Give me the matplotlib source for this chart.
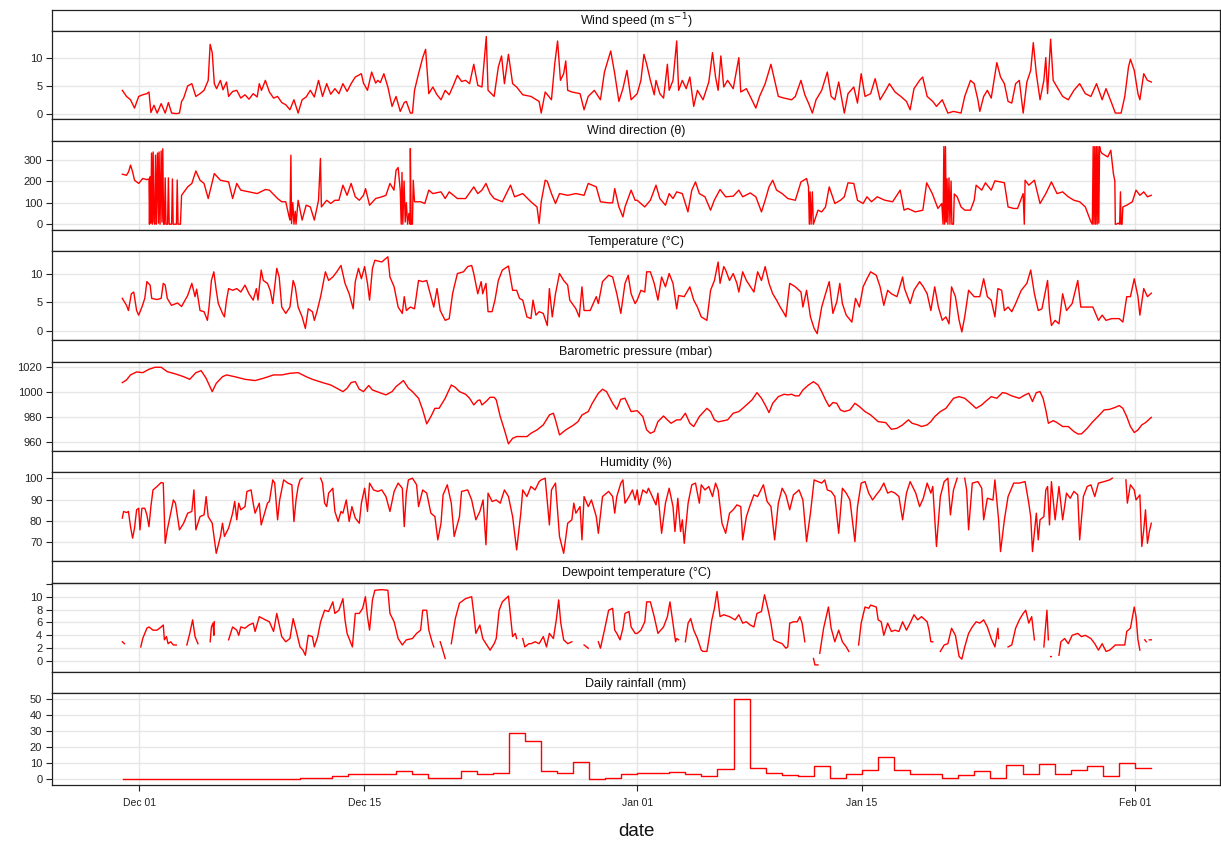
import numpy as np
import matplotlib
matplotlib.use("Agg")
import matplotlib.pyplot as plt

plt.rcParams['font.family'] = ['Liberation Sans', 'DejaVu Sans']
nan = float('nan')

# time = days since 1 December 00:00
START = np.datetime64('2012-12-01T00:00')

wind_speed = [(-1.07,4.2),(-0.81,3.1),(-0.56,2.5),(-0.31,1.0),(-0.05,3.1),(0.20,3.4),(0.46,3.6),(0.59,3.9),(0.71,0.2),(0.90,1.5),(1.10,0.1),(1.35,1.8),(1.60,0.1),(1.80,2.0),(2.00,0.1),(2.30,0.0),(2.49,0.1),(2.62,2.2),(2.75,2.8),(3.00,5.0),(3.26,5.4),(3.51,3.1),(3.77,3.6),(4.02,4.2),(4.28,6.0),(4.40,12.5),(4.53,11.0),(4.66,5.4),(4.80,4.5),(5.04,6.0),(5.20,4.3),(5.42,5.7),(5.55,3.1),(5.80,4.0),(6.06,4.2),(6.31,2.8),(6.57,3.4),(6.82,2.6),(7.08,3.6),(7.33,3.0),(7.46,5.4),(7.60,4.2),(7.84,6.0),(8.09,3.9),(8.35,2.8),(8.60,3.1),(8.86,2.0),(9.11,1.6),(9.37,0.7),(9.62,2.5),(9.88,0.1),(10.13,2.5),(10.38,3.0),(10.64,4.2),(10.89,3.0),(11.15,6.0),(11.40,3.1),(11.66,5.4),(11.91,3.5),(12.17,4.5),(12.42,3.6),(12.67,5.4),(12.93,4.0),(13.18,5.4),(13.44,6.6),(13.82,7.2),(13.95,5.5),(14.20,4.2),(14.46,7.5),(14.71,5.5),(14.84,6.0),(15.00,5.6),(15.22,7.2),(15.47,4.8),(15.73,1.3),(15.98,3.1),(16.24,0.4),(16.49,2.0),(16.62,2.2),(16.87,0.1),(17.00,0.1),(17.13,4.2),(17.38,7.2),(17.64,10.1),(17.82,11.6),(18.02,3.6),(18.27,4.8),(18.53,3.4),(18.78,2.5),(19.04,4.2),(19.29,3.4),(19.55,5.1),(19.80,6.9),(20.06,5.8),(20.31,6.0),(20.56,5.4),(20.82,8.9),(21.07,5.1),(21.33,4.8),(21.60,13.9),(21.71,4.2),(22.09,3.1),(22.35,8.4),(22.55,10.4),(22.73,5.4),(22.98,10.7),(23.24,5.4),(23.49,4.8),(23.87,3.4),(24.38,3.1),(24.89,2.2),(25.02,0.1),(25.27,3.9),(25.66,2.5),(25.86,8.9),(26.04,13.1),(26.22,6.0),(26.42,7.2),(26.55,9.5),(26.67,4.2),(26.93,3.9),(27.44,3.6),(27.69,0.7),(27.95,3.1),(28.33,4.2),(28.71,2.5),(28.96,7.5),(29.35,11.3),(29.60,7.2),(29.86,2.2),(30.11,4.5),(30.36,7.8),(30.62,2.5),
 (31.00,3.6),(31.23,6.0),(31.42,10.7),(31.59,8.9),(31.82,6.0),(32.06,3.4),(32.17,6.0),(32.41,3.6),(32.64,2.8),(32.88,8.9),(32.99,4.2),(33.23,6.0),(33.46,13.1),(33.58,4.2),(33.81,6.0),(34.05,4.5),(34.28,6.6),(34.52,1.3),(34.75,4.2),(35.10,2.5),(35.46,5.7),(35.69,11.0),(35.88,6.6),(36.04,4.2),(36.21,10.4),(36.39,4.8),(36.63,6.0),(36.98,4.5),(37.33,10.1),(37.45,3.9),(37.80,4.5),(38.04,3.1),(38.39,1.0),(38.62,3.1),(38.97,5.4),(39.33,8.9),(39.56,6.0),(39.79,3.1),(40.15,2.8),(40.62,2.5),(40.85,3.1),(41.20,6.0),(41.44,3.4),(41.67,1.9),(41.91,0.1),(42.14,2.5),(42.49,4.2),(42.84,7.5),(43.08,3.1),(43.31,2.5),(43.55,5.7),(43.90,0.1),(44.13,3.6),(44.49,4.8),(44.72,1.9),(44.95,7.2),(45.19,3.1),(45.54,3.6),(45.82,6.3),(46.13,2.5),(46.48,4.2),(46.71,5.4),(47.06,3.9),(47.42,3.1),(47.77,2.2),(48.00,0.7),(48.24,4.5),(48.59,6.0),(48.78,6.6),(49.06,3.1),(49.41,2.2),(49.64,1.3),(50.00,2.5),(50.35,0.1),(50.70,0.4),(51.17,0.1),(51.40,3.1),(51.76,6.0),(51.99,5.4),(52.22,2.5),(52.34,0.4),(52.58,3.1),(52.81,4.2),(53.05,2.8),(53.40,9.2),(53.63,6.6),(53.87,5.4),(54.10,2.2),(54.33,1.9),(54.57,5.4),(54.80,6.0),(55.04,0.1),(55.27,5.7),(55.51,7.8),(55.67,12.8),(55.86,7.2),(56.09,2.5),(56.33,6.0),(56.45,10.1),(56.56,3.6),(56.75,13.4),(56.91,6.0),(57.15,4.8),(57.50,3.1),(57.85,2.5),(58.20,4.2),(58.56,5.4),(58.91,3.6),(59.26,3.1),(59.61,5.4),(59.96,2.5),(60.20,4.5),(60.55,1.9),(60.78,0.1),(61.14,0.1),(61.37,3.1),(61.60,8.4),(61.72,9.8),(61.96,7.8),(62.19,3.6),(62.31,2.5),(62.55,7.2),(62.78,6.0),(63.02,5.7)]

wind_dir = [(-1.07,232),(-0.81,227),(-0.68,243),(-0.56,274),(-0.43,243),(-0.31,204),(-0.05,189),(0.20,212),(0.46,207),(0.59,210),(0.62,0),(0.66,220),(0.70,5),(0.75,330),(0.80,0),(0.85,335),(0.90,10),(0.95,0),(1.00,320),(1.05,0),(1.12,330),(1.18,5),(1.22,335),(1.28,0),(1.35,340),(1.40,10),(1.45,350),(1.50,0),(1.55,0),(1.60,215),(1.65,0),(1.75,0),(1.80,215),(1.85,0),(2.00,0),(2.05,210),(2.10,0),(2.30,0),(2.35,205),(2.40,0),(2.55,0),(2.62,134),(3.00,173),(3.26,189),(3.51,247),(3.77,204),(4.02,189),(4.28,119),(4.53,196),(4.66,235),(5.04,204),(5.55,196),(5.80,119),(6.06,189),(6.31,158),(6.82,150),(7.33,142),(7.84,161),(8.09,158),(8.60,119),(8.86,104),(9.11,104),(9.30,40),(9.37,19),(9.43,320),(9.47,3),(9.55,100),(9.62,0),(9.70,60),(9.75,0),(9.88,111),(10.13,19),(10.38,88),(10.64,80),(10.89,19),(11.15,111),(11.27,305),(11.33,80),(11.66,111),(11.91,96),(12.17,111),(12.42,111),(12.67,181),(12.93,134),(13.18,189),(13.44,127),(13.69,111),(13.95,134),(14.08,165),(14.33,88),(14.71,119),(15.09,127),(15.35,134),(15.60,189),(15.85,158),(15.98,250),(16.11,263),(16.24,158),(16.30,0),(16.35,240),(16.40,0),(16.48,200),(16.55,10),(16.62,100),(16.70,0),(16.78,50),(16.85,0),(16.87,351),(16.92,0),(17.00,0),(17.05,204),(17.13,104),(17.51,104),(17.77,96),(18.02,158),(18.27,142),(18.78,150),(19.04,119),(19.29,150),(19.55,134),(19.80,119),(20.31,119),(20.82,173),(21.07,142),(21.33,158),(21.58,189),(21.84,142),(22.09,119),(22.60,104),(23.11,181),(23.36,127),(23.87,142),(24.38,104),(24.76,80),(24.89,3),(25.02,104),(25.27,204),(25.40,199),(25.66,142),(25.91,96),(26.16,142),(26.67,134),(27.18,142),(27.69,134),(27.95,189),(28.45,173),(28.71,104),(29.22,99),(29.47,99),(29.60,165),(29.86,80),(30.11,34),(30.24,80),(30.62,158),(30.87,111),
 (31.00,111),(31.47,80),(31.82,111),(32.17,181),(32.41,119),(32.76,88),(32.99,142),(33.23,119),(33.46,150),(33.81,142),(34.16,57),(34.40,158),(34.63,196),(34.87,142),(35.22,127),(35.57,65),(35.80,111),(36.16,161),(36.51,127),(36.98,130),(37.33,158),(37.57,127),(38.04,145),(38.39,127),(38.74,57),(38.97,111),(39.21,173),(39.44,204),(39.68,158),(40.03,142),(40.38,119),(40.85,111),(41.20,196),(41.55,212),(41.67,173),(41.72,0),(41.77,150),(41.83,0),(41.91,150),(41.97,0),(42.02,10),(42.26,65),(42.49,57),(42.73,80),(42.96,173),(43.31,96),(43.66,111),(43.90,127),(44.13,192),(44.49,189),(44.72,111),(45.07,96),(45.31,127),(45.59,104),(45.95,127),(46.43,111),(46.91,104),(47.38,158),(47.62,65),(47.85,73),(48.32,57),(48.79,65),(49.03,192),(49.38,142),(49.73,73),(49.97,96),(50.05,0),(50.10,360),(50.15,0),(50.20,360),(50.25,10),(50.30,210),(50.35,0),(50.42,215),(50.48,0),(50.55,200),(50.60,0),(50.70,0),(50.75,140),(50.93,127),(51.17,80),(51.40,65),(51.76,65),(51.99,111),(52.11,181),(52.46,158),(52.69,192),(53.05,158),(53.28,201),(53.63,196),(53.87,192),(54.10,80),(54.45,73),(54.69,73),(55.04,142),(55.11,0),(55.16,204),(55.39,181),(55.74,204),(56.09,96),(56.45,142),(56.80,196),(57.15,142),(57.50,150),(57.85,127),(58.20,111),(58.56,104),(58.91,80),(59.26,11),(59.35,0),(59.40,360),(59.45,0),(59.50,360),(59.55,0),(59.60,360),(59.65,0),(59.70,360),(59.75,5),(59.80,360),(59.85,340),(59.96,328),(60.31,312),(60.50,343),(60.66,235),(60.75,200),(60.78,0),(60.85,0),(60.95,5),(61.05,0),(61.10,150),(61.14,0),(61.20,0),(61.25,80),(61.49,88),(61.84,104),(62.07,158),(62.31,134),(62.55,150),(62.78,127),(63.02,134)]

temperature = [(-1.07,5.7),(-0.81,4.5),(-0.69,3.6),(-0.51,6.5),(-0.36,6.8),(-0.18,3.6),(-0.05,2.8),(0.15,4.2),(0.33,5.7),(0.46,8.6),(0.66,8.0),(0.76,5.7),(1.09,5.5),(1.35,5.7),(1.48,8.3),(1.60,8.0),(1.73,5.7),(1.99,4.5),(2.37,4.9),(2.62,4.3),(3.00,6.2),(3.26,8.3),(3.46,6.0),(3.56,7.3),(3.77,3.6),(4.02,3.4),(4.23,1.9),(4.33,4.2),(4.48,8.8),(4.63,10.3),(4.78,7.1),(4.91,4.8),(5.17,3.1),(5.29,2.5),(5.42,5.4),(5.55,7.4),(5.80,7.1),(6.06,7.4),(6.31,6.8),(6.57,8.0),(6.82,6.5),(7.08,5.4),(7.28,7.4),(7.38,5.4),(7.58,10.6),(7.71,8.8),(7.97,8.3),(8.14,7.1),(8.30,4.8),(8.55,10.9),(8.70,9.4),(8.86,4.2),(9.11,3.1),(9.37,4.2),(9.57,8.8),(9.70,7.7),(9.88,4.2),(10.13,2.5),(10.33,0.5),(10.51,3.9),(10.77,3.4),(10.89,1.9),(11.05,3.4),(11.28,6.0),(11.40,7.7),(11.58,10.3),(11.78,8.8),(12.04,9.4),(12.29,10.3),(12.55,11.4),(12.80,8.3),(13.06,6.5),(13.31,3.9),(13.44,8.6),(13.64,10.9),(13.82,9.1),(14.02,11.2),(14.20,8.3),(14.33,5.4),(14.51,10.9),(14.66,12.3),(15.09,12.0),(15.47,12.9),(15.60,9.4),(15.86,7.7),(16.11,4.2),(16.37,3.1),(16.49,6.0),(16.62,3.6),(16.87,4.2),(17.13,3.9),(17.38,8.8),(17.64,8.6),(17.89,8.8),(18.02,7.4),(18.33,4.2),(18.53,7.4),(18.73,3.6),(19.04,1.9),(19.29,2.2),(19.50,6.5),(19.60,7.7),(19.80,10.0),(20.18,10.3),(20.44,11.2),(20.69,11.4),(20.82,10.0),(21.07,6.5),(21.28,8.6),(21.38,6.5),(21.58,8.3),(21.71,3.4),(21.96,3.4),(22.14,5.4),(22.35,8.8),(22.60,10.6),(22.98,11.3),(23.24,7.1),(23.49,7.1),(23.67,5.7),(23.87,5.4),(24.13,2.5),(24.38,2.2),(24.51,5.4),(24.69,2.8),(24.89,3.4),(25.15,3.1),(25.40,1.0),(25.53,7.4),(25.71,2.5),(25.91,6.5),(26.16,10.0),(26.42,8.8),(26.67,8.0),(26.80,5.4),(27.18,3.9),(27.39,2.5),(27.56,7.7),(27.69,3.6),(28.07,3.6),(28.45,6.0),(28.58,4.8),(28.84,8.6),(29.22,9.7),(29.47,9.4),(29.73,6.5),(29.98,3.1),(30.24,8.3),(30.44,9.7),(30.62,6.5),(30.87,4.8),
 (31.00,5.4),(31.23,7.1),(31.47,6.8),(31.59,10.3),(31.82,10.3),(32.06,8.3),(32.29,5.4),(32.52,9.4),(32.76,7.7),(32.99,10.0),(33.23,8.3),(33.46,3.9),(33.58,6.2),(33.93,6.0),(34.28,7.7),(34.52,5.4),(34.75,4.2),(34.99,2.5),(35.34,1.9),(35.57,7.1),(35.81,8.8),(36.04,12.0),(36.16,8.3),(36.39,11.2),(36.51,10.6),(36.75,8.8),(36.98,10.0),(37.21,8.3),(37.33,6.8),(37.57,10.3),(37.80,8.8),(38.27,6.8),(38.50,10.3),(38.74,8.8),(38.97,11.2),(39.21,8.3),(39.44,6.5),(39.68,5.4),(39.91,4.2),(40.15,3.1),(40.26,2.5),(40.50,8.3),(40.85,7.7),(41.20,6.8),(41.32,4.2),(41.55,7.1),(41.79,2.5),(42.02,0.5),(42.21,-0.4),(42.49,4.2),(42.73,6.5),(42.96,8.6),(43.19,3.1),(43.43,5.1),(43.62,8.3),(43.78,4.8),(44.02,2.8),(44.37,1.6),(44.60,5.7),(44.84,4.2),(45.07,7.7),(45.31,9.1),(45.54,10.3),(45.89,9.7),(46.13,7.7),(46.36,4.5),(46.60,7.1),(46.83,6.5),(47.18,6.0),(47.53,9.4),(47.65,7.4),(48.00,4.8),(48.24,7.1),(48.59,8.6),(48.82,7.7),(49.06,6.5),(49.29,3.6),(49.53,7.7),(49.76,4.2),(50.00,1.9),(50.23,2.5),(50.42,1.3),(50.58,7.7),(50.82,6.0),(51.05,1.9),(51.22,-0.1),(51.40,2.5),(51.64,7.1),(51.99,6.0),(52.34,6.0),(52.58,9.1),(52.81,6.0),(53.05,5.4),(53.28,2.5),(53.47,7.4),(53.70,7.1),(53.87,3.6),(54.10,4.2),(54.33,3.4),(54.57,4.8),(54.92,7.1),(55.27,8.3),(55.51,10.6),(55.74,6.5),(55.98,3.6),(56.21,3.9),(56.56,8.8),(56.68,3.6),(56.80,1.0),(57.03,1.9),(57.27,1.3),(57.50,6.5),(57.74,3.6),(58.09,4.8),(58.44,8.8),(58.63,4.2),(58.91,4.2),(59.38,4.2),(59.73,1.9),(59.96,2.8),(60.20,1.9),(60.55,2.2),(61.02,2.2),(61.25,1.6),(61.49,6.0),(61.72,6.0),(61.96,9.1),(62.19,6.0),(62.31,2.8),(62.55,7.4),(62.78,6.0),(63.02,6.6)]

pressure = [(-1.07,1007.3),(-0.81,1009.4),(-0.56,1013.4),(-0.18,1015.8),(0.20,1015.2),(0.59,1017.9),(0.97,1019.5),(1.35,1019.5),(1.73,1016.0),(2.24,1014.2),(2.75,1012.0),(3.13,1009.9),(3.51,1015.2),(3.84,1016.8),(4.15,1010.7),(4.53,1000.1),(4.78,1006.7),(5.17,1012.0),(5.42,1013.4),(5.93,1012.0),(6.57,1009.9),(7.20,1008.9),(7.71,1010.7),(8.35,1013.4),(8.86,1013.4),(9.37,1014.7),(9.88,1015.2),(10.38,1012.0),(10.77,1009.9),(11.40,1007.3),(11.91,1005.4),(12.29,1002.8),(12.67,1000.1),(12.93,1002.8),(13.18,1007.3),(13.44,1008.1),(13.69,1002.0),(13.95,1000.1),(14.28,1005.0),(14.51,1001.4),(14.97,999.3),(15.35,997.5),(15.73,1000.1),(15.98,1004.1),(16.44,1008.9),(16.75,1002.8),(17.00,1000.1),(17.38,994.8),(17.64,985.5),(17.89,974.4),(18.15,980.2),(18.40,986.8),(18.66,986.8),(19.04,994.8),(19.42,1005.4),(19.67,1003.5),(19.93,1000.1),(20.31,998.0),(20.56,994.8),(20.82,989.5),(21.07,993.0),(21.20,993.5),(21.33,989.5),(21.58,992.2),(21.84,995.6),(22.09,995.6),(22.22,993.5),(22.47,980.2),(22.73,969.6),(22.98,958.5),(23.24,962.9),(23.49,964.3),(24.13,964.3),(24.38,966.9),(24.76,969.6),(25.15,973.6),(25.53,981.5),(25.78,982.9),(25.91,977.6),(26.16,965.6),(26.55,969.6),(27.05,973.6),(27.31,976.2),(27.56,981.5),(27.95,984.2),(28.20,990.8),(28.58,998.8),(28.84,1002.0),(29.09,1000.1),(29.47,990.8),(29.73,986.0),(29.98,994.0),(30.24,994.8),(30.62,984.2),
 (31.00,984.9),(31.35,980.2),(31.59,969.6),(31.82,966.9),(32.06,968.3),(32.29,976.2),(32.64,980.7),(32.88,977.6),(33.11,974.9),(33.46,977.6),(33.70,977.6),(34.00,982.9),(34.28,974.9),(34.52,972.3),(34.87,980.2),(35.34,986.8),(35.57,984.2),(35.81,977.6),(36.04,976.0),(36.63,977.6),(36.98,982.9),(37.33,984.2),(37.57,986.8),(37.92,990.8),(38.15,993.5),(38.46,999.3),(38.74,994.8),(38.97,989.5),(39.21,983.4),(39.44,990.8),(39.79,996.1),(40.15,998.0),(40.38,997.5),(40.62,998.0),(40.85,996.7),(41.08,996.7),(41.32,1001.4),(41.67,1005.4),(41.98,1008.0),(42.26,1005.4),(42.49,1000.1),(42.73,993.5),(42.96,988.2),(43.19,991.4),(43.43,990.8),(43.66,985.5),(43.90,984.2),(44.25,985.5),(44.56,990.8),(44.84,988.2),(45.19,984.2),(45.54,981.5),(46.01,976.2),(46.48,975.4),(46.83,970.1),(47.18,970.9),(47.53,973.6),(47.89,977.6),(48.12,974.9),(48.47,973.6),(48.71,972.3),(49.06,973.6),(49.29,976.2),(49.53,980.2),(49.88,984.2),(50.23,986.8),(50.70,994.8),(51.05,996.1),(51.40,994.8),(51.64,992.2),(51.87,989.5),(52.11,986.8),(52.46,989.5),(52.69,992.2),(53.05,996.1),(53.40,994.8),(53.75,999.3),(53.98,998.8),(54.33,996.7),(54.80,994.8),(55.16,997.5),(55.39,998.8),(55.62,992.2),(55.86,999.3),(56.09,1000.1),(56.28,994.8),(56.45,985.5),(56.61,974.9),(56.91,977.0),(57.15,975.4),(57.50,972.3),(57.85,972.3),(58.20,968.3),(58.44,966.4),(58.67,966.4),(59.03,970.9),(59.38,976.2),(59.73,980.7),(60.08,985.5),(60.43,986.0),(60.78,987.6),(61.02,989.0),(61.25,986.8),(61.49,980.2),(61.72,972.3),(61.96,967.5),(62.19,969.6),(62.43,973.6),(62.66,975.4),(63.02,979.6)]

humidity = [(-1.07,81.3),(-0.99,84.4),(-0.81,83.9),(-0.69,84.4),(-0.56,77.3),(-0.43,71.9),(-0.31,76.6),(-0.18,85.2),(-0.05,85.9),(0.03,75.8),(0.15,85.9),(0.33,85.9),(0.46,82.8),(0.59,77.3),(0.71,86.7),(0.84,94.5),(1.09,96.1),(1.35,98.0),(1.48,97.7),(1.60,69.5),(1.73,75.8),(1.86,80.5),(1.99,85.2),(2.11,89.8),(2.24,88.3),(2.49,75.8),(2.75,78.9),(3.00,83.6),(3.26,84.4),(3.39,94.5),(3.51,75.8),(3.77,82.0),(4.02,82.8),(4.15,91.4),(4.28,82.0),(4.53,78.9),(4.78,64.8),(5.04,72.7),(5.17,78.9),(5.29,72.7),(5.55,76.6),(5.80,83.6),(5.93,89.1),(6.06,80.5),(6.18,88.3),(6.31,85.2),(6.57,86.7),(6.69,93.8),(6.95,94.5),(7.08,88.3),(7.20,83.6),(7.46,88.3),(7.58,78.1),(7.79,83.6),(7.97,88.3),(8.09,89.1),(8.30,99.2),(8.42,97.7),(8.60,80.5),(8.73,89.8),(8.98,99.2),(9.24,97.7),(9.49,96.9),(9.62,79.7),(9.75,89.8),(9.88,96.1),(10.00,99.2),(10.13,100.0),(10.5,nan),
 (11.28,100.0),(11.40,97.7),(11.53,88.3),(11.66,86.7),(11.78,93.0),(12.04,95.3),(12.17,84.4),(12.37,79.7),(12.55,84.4),(12.67,83.6),(12.88,89.8),(13.06,79.7),(13.23,86.7),(13.44,81.3),(13.69,78.9),(13.82,88.3),(14.02,95.3),(14.20,84.4),(14.33,97.7),(14.58,94.5),(14.84,93.8),(15.09,94.5),(15.35,91.4),(15.60,84.4),(15.86,93.8),(16.11,97.7),(16.37,95.3),(16.49,77.3),(16.62,93.0),(16.75,99.2),(17.00,100.0),(17.26,96.9),(17.38,86.7),(17.64,94.5),(17.89,93.0),(18.15,83.6),(18.40,82.0),(18.58,71.1),(18.78,78.9),(18.91,92.2),(19.17,96.9),(19.42,88.3),(19.60,72.7),(19.93,82.0),(20.06,93.8),(20.44,94.5),(20.69,89.8),(20.95,80.5),(21.20,84.4),(21.40,89.8),(21.58,68.8),(21.71,93.0),(21.96,89.1),(22.22,89.8),(22.47,88.3),(22.73,94.5),(22.98,91.4),(23.24,82.0),(23.49,66.4),(23.75,83.6),(23.87,94.5),(24.13,91.4),(24.38,96.1),(24.64,94.5),(24.89,98.4),(25.02,99.2),(25.27,100.0),(25.53,78.1),(25.66,94.5),(25.91,97.7),(26.16,72.7),(26.42,64.8),(26.67,78.9),(26.93,80.5),(27.05,88.3),(27.18,83.6),(27.44,86.7),(27.56,71.1),(27.69,91.4),(27.95,86.7),(28.15,89.8),(28.45,82.0),(28.58,74.2),(28.84,91.4),(29.22,93.8),(29.47,91.4),(29.60,83.6),(29.73,91.4),(29.98,97.7),(30.11,99.2),(30.24,88.3),(30.49,91.4),(30.70,94.5),(30.87,89.8),
 (31.00,94.5),(31.12,87.5),(31.35,94.5),(31.59,93.0),(31.70,95.3),(31.94,91.4),(32.17,87.5),(32.29,93.0),(32.52,74.2),(32.76,88.3),(32.99,95.3),(33.23,86.7),(33.35,75.0),(33.53,90.6),(33.70,75.0),(33.81,80.5),(33.93,69.5),(34.17,88.3),(34.40,96.9),(34.63,97.7),(34.87,88.3),(34.99,96.9),(35.22,94.5),(35.46,96.1),(35.69,91.4),(35.88,97.7),(36.04,94.5),(36.28,78.9),(36.51,74.2),(36.75,83.6),(36.98,85.2),(37.21,87.5),(37.45,86.7),(37.57,71.1),(37.80,82.0),(38.04,87.5),(38.27,92.2),(38.50,91.4),(38.86,96.9),(39.09,89.1),(39.33,86.7),(39.56,71.1),(39.79,88.3),(40.03,95.3),(40.26,92.2),(40.50,85.2),(40.73,92.2),(41.08,94.5),(41.32,89.8),(41.55,70.3),(41.79,83.6),(42.02,99.2),(42.26,98.4),(42.49,97.7),(42.68,99.2),(42.84,94.5),(43.08,93.8),(43.31,91.4),(43.55,74.2),(43.78,95.3),(44.02,93.0),(44.25,89.8),(44.56,70.3),(44.72,86.7),(44.95,97.7),(45.19,98.4),(45.42,93.0),(45.66,89.8),(45.89,92.2),(46.13,94.5),(46.36,97.7),(46.60,93.0),(46.83,93.8),(47.06,93.0),(47.30,91.4),(47.53,80.5),(47.77,93.0),(48.00,98.4),(48.35,93.0),(48.59,86.7),(48.82,90.6),(49.06,97.7),(49.29,93.0),(49.41,96.1),(49.64,68.0),(49.88,91.4),(50.12,98.4),(50.35,100.0),(50.51,82.8),(50.70,94.5),(50.93,100.0),(51.1,nan),
 (51.40,100.0),(51.52,94.5),(51.64,75.8),(51.87,97.7),(52.22,98.4),(52.46,95.3),(52.58,80.5),(52.81,90.6),(53.16,89.8),(53.28,99.2),(53.51,80.5),(53.63,65.6),(53.87,80.5),(54.10,91.4),(54.45,97.7),(54.80,97.7),(55.16,98.4),(55.39,88.3),(55.51,82.0),(55.62,65.6),(55.86,83.6),(55.98,71.1),(56.09,80.5),(56.33,82.0),(56.45,94.5),(56.56,96.1),(56.68,78.1),(56.80,98.4),(57.03,80.5),(57.27,96.1),(57.50,80.5),(57.74,93.0),(57.97,90.6),(58.20,93.8),(58.44,92.2),(58.56,71.1),(58.79,91.4),(59.03,96.1),(59.26,96.9),(59.50,91.4),(59.73,97.7),(60.08,98.4),(60.43,99.2),(60.59,100.0),(61.0,nan),
 (61.44,99.2),(61.53,88.3),(61.72,96.9),(61.96,94.5),(62.07,89.8),(62.31,92.2),(62.43,68.0),(62.55,75.8),(62.66,85.2),(62.78,69.5),(62.90,75.0),(63.02,78.9)]

dewpoint = [(-1.07,3.0),(-0.94,2.7),(-0.5,nan),
 (0.08,2.2),(0.20,3.5),(0.46,5.1),(0.59,5.3),(0.84,4.8),(1.09,4.8),(1.35,5.3),(1.48,5.6),(1.55,3.3),(1.68,3.8),(1.78,2.7),(1.94,3.0),(2.11,2.5),(2.29,2.5),(2.6,nan),
 (2.95,2.5),(3.13,4.3),(3.31,6.4),(3.46,3.8),(3.64,2.7),(4.0,nan),
 (4.40,3.0),(4.48,5.3),(4.58,5.9),(4.63,4.0),(4.66,6.1),(5.0,nan),
 (5.55,3.3),(5.80,5.3),(6.06,4.8),(6.18,4.0),(6.31,5.3),(6.57,5.1),(6.82,5.6),(7.08,5.9),(7.20,4.6),(7.46,6.9),(7.84,6.4),(8.09,6.1),(8.35,4.6),(8.55,7.4),(8.86,3.8),(9.11,3.0),(9.37,3.5),(9.57,6.6),(9.75,4.8),(10.00,2.2),(10.18,1.7),(10.33,0.9),(10.51,4.0),(10.77,3.8),(10.89,2.2),(11.10,3.8),(11.28,6.1),(11.53,7.9),(11.78,7.7),(12.04,9.2),(12.17,7.4),(12.42,7.9),(12.67,9.7),(12.80,6.4),(12.93,4.3),(13.13,3.0),(13.26,2.2),(13.44,7.4),(13.69,7.4),(13.90,8.2),(14.07,10.0),(14.20,6.9),(14.33,4.8),(14.51,9.5),(14.66,11.0),(15.09,11.1),(15.47,11.0),(15.60,7.4),(15.86,6.1),(16.11,3.5),(16.37,2.5),(16.62,3.3),(17.00,3.5),(17.26,4.3),(17.51,4.8),(17.64,7.9),(17.89,7.9),(18.02,4.8),(18.22,3.0),(18.33,2.2),(18.5,nan),
 (18.73,3.0),(18.83,2.2),(19.04,0.4),(19.2,nan),
 (19.42,2.7),(19.67,6.6),(19.93,9.0),(20.31,9.7),(20.69,10.0),(20.82,7.4),(20.95,4.3),(21.20,5.6),(21.38,3.5),(21.58,2.7),(21.84,1.7),(22.09,2.7),(22.22,3.5),(22.40,7.9),(22.60,9.2),(22.98,10.1),(23.24,3.8),(23.41,4.3),(23.49,3.5),(23.7,nan),
 (23.87,3.5),(24.00,2.2),(24.25,2.7),(24.38,2.7),(24.64,3.0),(24.89,2.7),(25.15,3.8),(25.35,2.2),(25.53,4.3),(25.78,3.5),(25.96,6.4),(26.11,9.5),(26.24,5.9),(26.42,3.3),(26.67,2.7),(26.93,3.0),(27.3,nan),
 (27.69,2.5),(27.95,2.0),(28.3,nan),
 (28.58,3.0),(28.71,2.0),(28.96,4.8),(29.22,7.9),(29.47,8.2),(29.60,4.8),(29.73,4.3),(29.93,3.3),(30.11,5.1),(30.24,7.4),(30.49,7.7),(30.62,5.3),(30.87,4.3),
 (31.00,4.3),(31.23,4.8),(31.47,6.1),(31.59,9.2),(31.82,9.2),(32.06,6.9),(32.29,4.3),(32.64,5.3),(32.88,6.9),(33.04,9.2),(33.23,5.9),(33.39,3.0),(33.46,3.5),(33.58,3.3),(33.8,nan),
 (34.00,3.0),(34.17,5.9),(34.33,6.6),(34.52,4.8),(34.75,3.5),(34.99,1.7),(35.10,1.5),(35.34,1.5),(35.46,3.3),(35.65,6.4),(35.81,8.2),(35.97,10.8),(36.16,6.9),(36.39,7.2),(36.75,6.9),(37.10,6.4),(37.33,7.2),(37.57,5.9),(37.80,6.1),(38.04,5.6),(38.27,5.3),(38.46,7.4),(38.74,7.7),(38.93,10.3),(39.16,7.9),(39.33,5.9),(39.49,3.3),(39.72,3.0),(40.03,2.7),(40.26,2.0),(40.38,2.2),(40.50,5.9),(40.73,6.1),(40.97,6.1),(41.13,6.9),(41.27,5.9),(41.44,3.0),(41.7,nan),
 (41.98,0.4),(42.07,-0.6),(42.26,-0.6),(42.3,nan),
 (42.37,1.2),(42.61,5.1),(42.77,6.9),(42.91,8.4),(43.08,5.1),(43.31,3.0),(43.55,4.8),(43.78,3.0),(44.02,2.2),(44.18,1.5),(44.5,nan),
 (44.79,2.5),(44.95,5.9),(45.19,8.4),(45.42,8.2),(45.54,8.7),(45.89,8.4),(46.01,6.4),(46.20,6.1),(46.36,4.0),(46.60,5.9),(46.83,4.6),(47.06,4.8),(47.30,4.6),(47.53,6.1),(47.77,4.8),(48.00,5.9),(48.24,7.2),(48.47,6.4),(48.71,6.9),(49.06,6.1),(49.18,4.8),(49.29,3.0),(49.41,3.0),(49.6,nan),
 (49.88,1.5),(50.12,2.5),(50.35,2.7),(50.58,5.1),(50.82,4.0),(51.05,0.7),(51.22,0.3),(51.40,2.2),(51.64,4.3),(51.87,5.3),(52.11,6.1),(52.34,5.9),(52.58,6.4),(52.81,5.3),(53.05,3.5),(53.28,2.2),(53.47,5.1),(53.51,3.5),(53.8,nan),
 (54.10,2.2),(54.33,2.5),(54.57,5.1),(54.80,6.4),(55.04,7.4),(55.20,7.9),(55.39,5.9),(55.57,6.9),(55.74,3.3),(56.0,nan),
 (56.33,2.2),(56.52,7.9),(56.61,3.3),(56.68,nan),
 (56.75,0.7),(56.79,0.7),(57.0,nan),
 (57.27,0.9),(57.39,3.0),(57.62,3.5),(57.85,2.7),(58.09,4.0),(58.44,4.3),(58.67,3.8),(58.91,4.0),(59.26,3.5),(59.50,2.7),(59.73,1.7),(59.96,2.7),(60.20,1.5),(60.43,1.7),(60.78,2.5),(61.14,2.5),(61.37,2.5),(61.49,4.6),(61.72,5.1),(61.96,8.4),(62.07,6.9),(62.19,3.3),(62.31,1.7),(62.45,nan),
 (62.61,3.3),(62.71,3.0),(62.8,nan),
 (62.90,3.3),(63.02,3.3)]

# daily rainfall, one value per day from 30 Nov to 1 Feb
rain_day0 = -1
rainfall = [0.2,0.1,0.2,0.2,0.2,0.1,0.2,0.3,0.3,0.4,0.3,0.5,0.8,2.0,3.0,3.5,3.0,5.0,3.5,1.0,1.0,5.0,3.0,4.0,
            29.0,23.5,5.0,4.0,10.5,0.2,1.0,3.0,4.0,4.0,4.5,3.5,2.0,6.5,50.0,7.0,4.0,2.5,2.0,8.0,1.0,3.0,6.0,
            14.0,5.5,3.0,3.5,1.0,2.5,5.0,1.0,9.0,3.0,9.5,3.0,5.5,8.0,2.0,10.0,7.0]

tick_days = [0, 14, 31, 45, 62]
tick_labels = ["Dec 01", "Dec 15", "Jan 01", "Jan 15", "Feb 01"]

titles = ["Wind speed (m s$^{-1}$)", "Wind direction (\u03b8)", "Temperature (\u00b0C)",
          "Barometric pressure (mbar)", "Humidity (%)", "Dewpoint temperature (\u00b0C)",
          "Daily rainfall (mm)"]


def to_dates(t):
    t = np.asarray(t, dtype=float)
    return START + np.round(t * 1440).astype(np.int64).astype('timedelta64[m]')


W, H = 1221, 843
fig = plt.figure(figsize=(W / 100, H / 100), dpi=100)
left, right = 52, 1220
strip_tops = [10, 119, 230, 340, 451, 561, 672]
plot_tops = [31, 141, 251, 362, 472, 583, 693]
plot_bots = [119, 230, 340, 451, 561, 672, 785]

series = [wind_speed, wind_dir, temperature, pressure, humidity, dewpoint, None]
ylims = [(-0.97, 14.9), (-27, 386), (-1.5, 13.9), (952.8, 1023.7), (61.2, 102.9), (-1.7, 12.13), (-3.6, 53.6)]
yticks = [[0, 5, 10], [0, 100, 200, 300], [0, 5, 10], [960, 980, 1000, 1020],
          [70, 80, 90, 100], [0, 2, 4, 6, 8, 10, 12], [0, 10, 20, 30, 40, 50]]

xlo, xhi = to_dates([-5.45, 67.3])
grid_c = '#E6E6E6'
red = '#FF0000'

for i in range(7):
    # strip
    st, pt, pb = strip_tops[i], plot_tops[i], plot_bots[i]
    sax = fig.add_axes([left / W, 1 - pt / H, (right - left) / W, (pt - st) / H])
    sax.set_xticks([]); sax.set_yticks([])
    sax.set_facecolor('white')
    for s in sax.spines.values():
        s.set_linewidth(0.9); s.set_color('#222222')
    sax.text(0.5, 0.45, titles[i], ha='center', va='center', fontsize=9, color='#111111',
             transform=sax.transAxes)

    ax = fig.add_axes([left / W, 1 - pb / H, (right - left) / W, (pb - pt) / H])
    for s in ax.spines.values():
        s.set_linewidth(0.9); s.set_color('#222222')
    ax.set_xlim(xlo, xhi)
    ax.set_ylim(*ylims[i])
    ax.set_axisbelow(True)
    for d in tick_days:
        ax.axvline(to_dates([d])[0], color=grid_c, lw=1, zorder=0)
    for y in yticks[i]:
        ax.axhline(y, color=grid_c, lw=1, zorder=0)

    if series[i] is not None:
        arr = np.array(series[i], dtype=float)
        ax.plot(to_dates(arr[:, 0]), arr[:, 1], color=red, lw=1.0, solid_joinstyle='round')
    else:
        edges = np.arange(len(rainfall) + 1) + rain_day0
        vals = rainfall + [rainfall[-1]]
        ax.step(to_dates(edges), vals, where='post', color=red, lw=1.0)

    ax.set_yticks(yticks[i])
    labels = [str(v) for v in yticks[i]]
    if i == 5:
        labels[-1] = ''
    ax.set_yticklabels(labels)
    ax.tick_params(axis='y', direction='out', length=4, width=0.8, labelsize=8,
                   colors='#222222', pad=3, right=False)
    if i == 6:
        ax.set_xticks(to_dates(tick_days))
        ax.set_xticklabels(tick_labels)
        ax.tick_params(axis='x', direction='out', length=4, width=0.8, labelsize=7.5,
                       colors='#222222', pad=5, top=False)
    else:
        ax.set_xticks([])

fig.text(636 / W, 1 - 832 / H, "date", ha='center', va='center', fontsize=13.5, color='#111111')

fig.savefig("out.png", dpi=100)
